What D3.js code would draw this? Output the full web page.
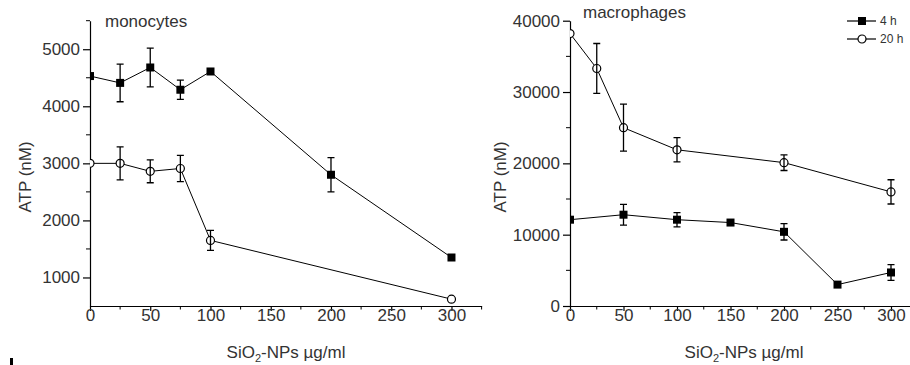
<!DOCTYPE html>
<html>
<head>
<meta charset="utf-8">
<script src="https://cdn.jsdelivr.net/npm/d3@7"></script>
<style>
  body { margin: 0; background: #fff; }
  text { font-family: "Liberation Sans", Arial, sans-serif; }
</style>
</head>
<body>
<svg id="chart" width="910" height="365"></svg>
<script>
// monocytes
var monoX4 = [0, 25, 50, 75, 100, 200, 300];
var mono4 = [4530, 4410, 4680, 4290, 4610, 2800, 1350];
var mono4Err = [0, 330, 340, 170, 0, 300, 0];
var monoX20 = [0, 25, 50, 75, 100, 300];
var mono20 = [3000, 3000, 2860, 2910, 1650, 620];
var mono20Err = [0, 290, 200, 230, 175, 0];

// macrophages
var macroX4 = [0, 50, 100, 150, 200, 250, 300];
var macro4 = [12100, 12800, 12100, 11700, 10400, 3000, 4700];
var macro4Err = [0, 1450, 1000, 0, 1150, 0, 1100];
var macroX20 = [0, 25, 50, 100, 200, 300];
var macro20 = [38200, 33300, 25000, 21900, 20100, 16000];
var macro20Err = [0, 3500, 3300, 1700, 1100, 1700];

var xTicks = [0, 50, 100, 150, 200, 250, 300];
var monoYTicks = [1000, 2000, 3000, 4000, 5000];
var macroYTicks = [0, 10000, 20000, 30000, 40000];
var legendLabels = ["4 h", "20 h"];

var svg = d3.select("#chart");
var txt = "#333";

function zip(xs, ys, es) {
  return xs.map(function(x, i) { return {x: x, y: ys[i], e: es[i]}; });
}

function panel(opt) {
  var x = d3.scaleLinear().domain([0, 325]).range(opt.xr);
  var y = d3.scaleLinear().domain(opt.yd).range([306, 20.7]);
  var g = svg.append("g");
  var id = "clip" + opt.name;

  svg.append("clipPath").attr("id", id).append("rect")
      .attr("x", opt.xr[0]).attr("y", 0)
      .attr("width", opt.xr[1] - opt.xr[0]).attr("height", 307);

  // minor ticks
  var xMinor = d3.range(25, 326, 50);
  g.selectAll(".xm").data(xMinor).enter().append("line")
      .attr("x1", function(d) { return x(d); }).attr("x2", function(d) { return x(d); })
      .attr("y1", 306).attr("y2", 309.5).attr("stroke", "#000");
  g.selectAll(".ym").data(opt.yMinor).enter().append("line")
      .attr("y1", function(d) { return y(d); }).attr("y2", function(d) { return y(d); })
      .attr("x1", opt.xr[0]).attr("x2", opt.xr[0] - 4).attr("stroke", "#000");

  var xa = g.append("g").attr("transform", "translate(0,306)")
      .call(d3.axisBottom(x).tickValues(xTicks).tickFormat(d3.format("d"))
        .tickSize(5).tickPadding(-2).tickSizeOuter(0));
  var ya = g.append("g").attr("transform", "translate(" + opt.xr[0] + ",0)")
      .call(d3.axisLeft(y).tickValues(opt.yTicks).tickFormat(d3.format("d"))
        .tickSize(7).tickPadding(3).tickSizeOuter(0));
  [xa, ya].forEach(function(a) {
    a.select(".domain").attr("stroke", "#000").attr("stroke-width", 1.2);
    a.selectAll(".tick line").attr("stroke", "#000").attr("stroke-width", 1.2);
    a.selectAll("text").attr("font-size", 17).attr("fill", txt)
        .attr("font-family", "Liberation Sans, Arial, sans-serif");
  });

  var plot = g.append("g").attr("clip-path", "url(#" + id + ")");
  var line = d3.line().x(function(d) { return x(d.x); }).y(function(d) { return y(d.y); });

  opt.series.forEach(function(s) {
    var pts = zip(s.xs, s.ys, s.es);
    g.selectAll(null).data(pts.filter(function(d) { return d.e > 0; })).enter()
      .append("path")
      .attr("d", function(d) {
        var cx = x(d.x), t = y(d.y + d.e), b = y(d.y - d.e);
        return "M" + cx + "," + t + "V" + b +
               "M" + (cx - 3.5) + "," + t + "H" + (cx + 3.5) +
               "M" + (cx - 3.5) + "," + b + "H" + (cx + 3.5);
      })
      .attr("stroke", "#000").attr("stroke-width", 1.3).attr("fill", "none");
    plot.append("path").datum(pts).attr("d", line)
        .attr("fill", "none").attr("stroke", "#000").attr("stroke-width", 1);
    if (s.filled) {
      plot.selectAll(null).data(pts).enter().append("rect")
          .attr("x", function(d) { return x(d.x) - 4; })
          .attr("y", function(d) { return y(d.y) - 4; })
          .attr("width", 8).attr("height", 8).attr("fill", "#000");
    } else {
      plot.selectAll(null).data(pts).enter().append("circle")
          .attr("cx", function(d) { return x(d.x); })
          .attr("cy", function(d) { return y(d.y); })
          .attr("r", 4).attr("fill", "#fff").attr("stroke", "#000").attr("stroke-width", 1.2);
    }
  });

  g.append("text").attr("x", opt.titleX).attr("y", opt.titleY)
      .attr("font-size", 17).attr("fill", txt).text(opt.title);

  g.append("text")
      .attr("transform", "translate(" + opt.ylabX + ",177) rotate(-90)")
      .attr("text-anchor", "middle").attr("font-size", 17).attr("fill", txt)
      .text("ATP (nM)");

  var xl = g.append("text").attr("x", opt.xlabX).attr("y", 358)
      .attr("text-anchor", "middle").attr("font-size", 17).attr("fill", txt);
  xl.append("tspan").text("SiO");
  xl.append("tspan").attr("font-size", 11).attr("dy", 4).text("2");
  xl.append("tspan").attr("dy", -4).text("-NPs µg/ml");

  return {x: x, y: y};
}

panel({
  name: "mono", xr: [90, 481.6], yd: [500, 5500],
  yTicks: monoYTicks, yMinor: [1500, 2500, 3500, 4500, 5500],
  title: "monocytes", titleX: 105, titleY: 27, ylabX: 31, xlabX: 286,
  series: [
    {xs: monoX4, ys: mono4, es: mono4Err, filled: true},
    {xs: monoX20, ys: mono20, es: mono20Err, filled: false}
  ]
});

panel({
  name: "macro", xr: [570, 917.75], yd: [0, 40000],
  yTicks: macroYTicks, yMinor: [5000, 15000, 25000, 35000],
  title: "macrophages", titleX: 583, titleY: 18, ylabX: 506, xlabX: 744,
  series: [
    {xs: macroX4, ys: macro4, es: macro4Err, filled: true},
    {xs: macroX20, ys: macro20, es: macro20Err, filled: false}
  ]
});

// legend
var leg = svg.append("g").selectAll("g").data(legendLabels).enter().append("g")
    .attr("transform", function(d, i) { return "translate(847," + (21 + i * 18) + ")"; });
leg.append("line").attr("x1", 0).attr("x2", 29).attr("stroke", "#000").attr("stroke-width", 1.2);
leg.each(function(d, i) {
  var s = d3.select(this);
  if (i === 0) {
    s.append("rect").attr("x", 11).attr("y", -4).attr("width", 8).attr("height", 8).attr("fill", "#000");
  } else {
    s.append("circle").attr("cx", 15).attr("cy", 0).attr("r", 4)
        .attr("fill", "#fff").attr("stroke", "#000").attr("stroke-width", 1.2);
  }
});
leg.append("text").attr("x", 33).attr("dy", "0.35em").attr("font-size", 12)
    .attr("fill", txt).text(function(d) { return d; });

// cut-off mark at bottom-left edge
svg.append("rect").attr("x", 10).attr("y", 358).attr("width", 3).attr("height", 7).attr("fill", "#000");
</script>
</body>
</html>
